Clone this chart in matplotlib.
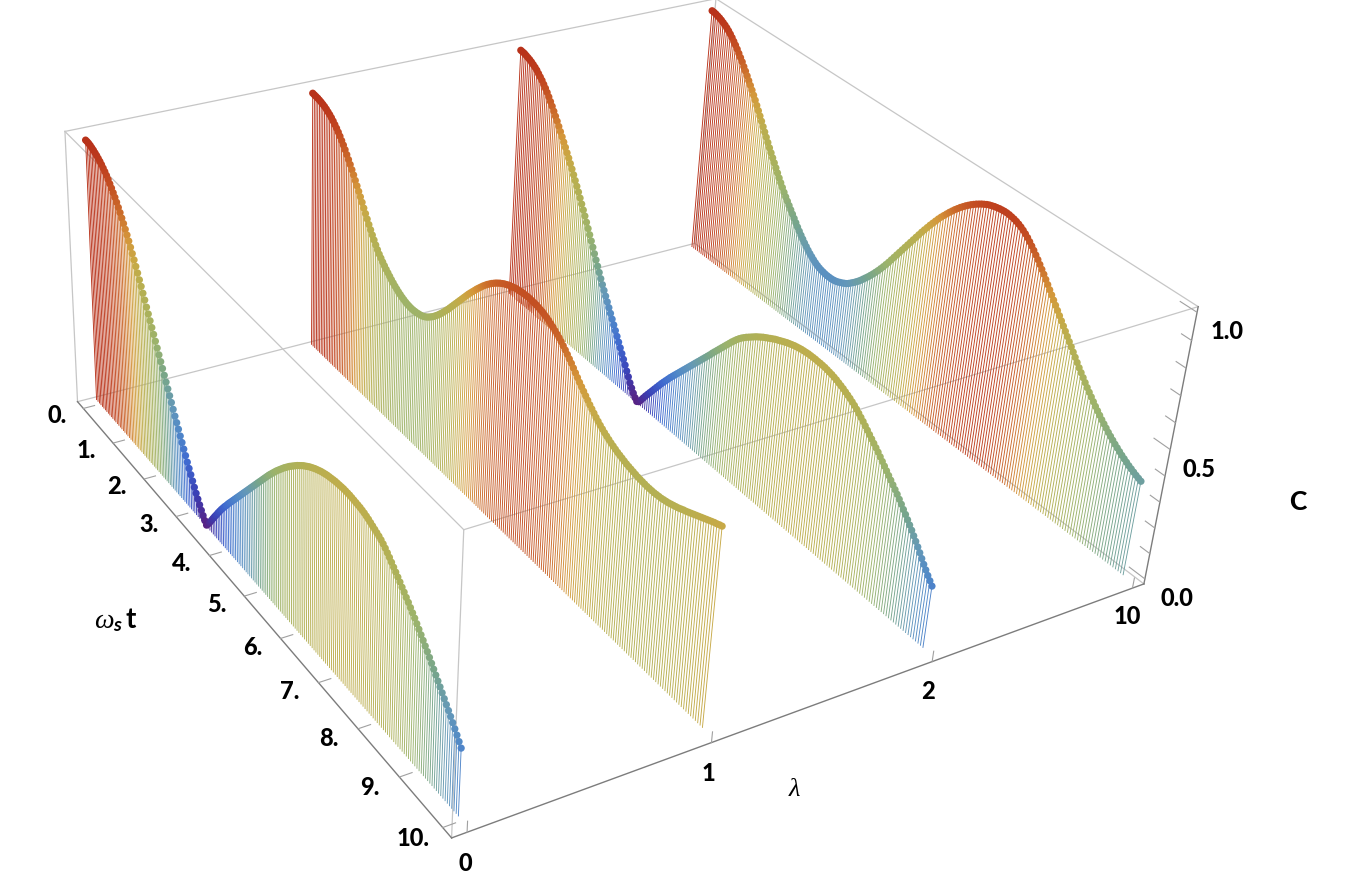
import numpy as np
import matplotlib
matplotlib.use("Agg")
import matplotlib.pyplot as plt
from matplotlib.colors import LinearSegmentedColormap
from mpl_toolkits.mplot3d import proj3d
from mpl_toolkits.mplot3d.art3d import Line3DCollection

# C(t), one list per lambda, t = 0 ... 10 in steps of 0.05
c_lam0 = [1.000,1.000,.999,.997,.994,.991,.987,.983,.978,.973,.967,.960,.953,.945,.936,.926,.916,.905,.894,.882,
 .869,.856,.842,.828,.813,.798,.782,.765,.748,.731,.713,.695,.676,.658,.639,.620,.600,.581,.562,.543,
 .524,.505,.486,.467,.448,.429,.410,.391,.372,.353,.334,.315,.296,.278,.260,.241,.223,.205,.187,.169,
 .152,.135,.118,.101,.085,.070,.055,.041,.028,.016,.006,.018,.032,.047,.062,.077,.091,.106,.120,.134,
 .147,.160,.172,.185,.197,.209,.221,.233,.245,.257,.269,.281,.293,.305,.317,.329,.341,.353,.365,.377,
 .389,.401,.413,.425,.437,.449,.461,.472,.483,.494,.505,.515,.525,.535,.545,.554,.563,.572,.580,.588,
 .596,.604,.611,.618,.625,.631,.637,.643,.648,.653,.658,.662,.666,.670,.673,.676,.679,.681,.683,.685,
 .687,.688,.689,.690,.691,.691,.691,.691,.690,.689,.688,.687,.686,.684,.682,.679,.676,.672,.668,.664,
 .660,.656,.651,.645,.638,.630,.622,.613,.604,.595,.586,.577,.567,.558,.548,.539,.529,.519,.509,.498,
 .487,.476,.465,.454,.443,.431,.419,.407,.395,.383,.371,.359,.347,.335,.323,.311,.298,.285,.272,.258,.244]
c_lam1 = [1.000,.999,.998,.997,.995,.993,.990,.987,.983,.978,.973,.967,.960,.952,.944,.935,.925,.914,.903,.891,
 .878,.865,.852,.838,.824,.809,.794,.779,.764,.749,.733,.718,.703,.688,.674,.660,.647,.634,.622,.611,
 .602,.593,.585,.577,.570,.563,.556,.550,.544,.539,.534,.530,.526,.523,.520,.518,.517,.516,.516,.517,
 .518,.520,.522,.525,.529,.534,.540,.547,.554,.562,.571,.580,.590,.600,.611,.622,.633,.645,.657,.669,
 .681,.693,.705,.717,.729,.741,.753,.764,.775,.786,.797,.807,.817,.827,.836,.845,.853,.861,.868,.875,
 .881,.887,.892,.897,.901,.905,.908,.911,.914,.916,.917,.919,.920,.920,.921,.921,.920,.919,.918,.916,
 .914,.912,.908,.905,.901,.896,.891,.885,.879,.873,.866,.858,.850,.841,.832,.823,.813,.803,.793,.783,
 .774,.765,.756,.747,.738,.730,.722,.714,.707,.700,.694,.688,.683,.678,.673,.669,.665,.661,.658,.655,
 .652,.649,.647,.645,.643,.641,.639,.638,.637,.636,.635,.635,.635,.635,.636,.637,.638,.640,.642,.644,
 .647,.650,.653,.656,.660,.664,.667,.671,.675,.679,.683,.687,.691,.695,.699,.703,.707,.711,.714,.718,.721]
c_lam2 = [1.000,.999,.998,.995,.992,.989,.985,.980,.975,.969,.961,.953,.945,.935,.925,.914,.902,.889,.876,.862,
 .848,.834,.819,.804,.789,.774,.759,.743,.728,.712,.696,.679,.662,.645,.628,.610,.592,.574,.556,.537,
 .518,.499,.480,.461,.441,.422,.403,.384,.365,.347,.330,.313,.296,.279,.262,.245,.228,.211,.194,.177,
 .160,.143,.126,.109,.091,.074,.056,.041,.027,.015,.006,.012,.026,.041,.056,.070,.084,.098,.112,.126,
 .140,.154,.167,.180,.193,.206,.218,.230,.242,.254,.266,.278,.290,.302,.314,.326,.338,.350,.362,.374,
 .386,.398,.410,.423,.435,.447,.459,.471,.483,.495,.507,.519,.530,.541,.551,.560,.568,.576,.583,.590,
 .597,.604,.610,.616,.622,.627,.632,.637,.642,.647,.651,.655,.659,.663,.667,.670,.673,.676,.678,.680,
 .682,.683,.684,.685,.685,.685,.685,.684,.684,.683,.682,.680,.678,.676,.673,.670,.666,.662,.658,.653,
 .648,.643,.637,.631,.624,.616,.608,.600,.591,.582,.573,.564,.555,.546,.537,.527,.517,.507,.497,.487,
 .477,.467,.457,.447,.436,.425,.413,.402,.390,.378,.366,.353,.340,.327,.313,.299,.285,.272,.259,.247,.235]
c_lam10 = [1.000,.999,.997,.994,.991,.987,.982,.977,.971,.964,.956,.947,.937,.927,.916,.904,.892,.880,.866,.853,
 .839,.825,.811,.797,.782,.767,.751,.735,.719,.703,.686,.670,.654,.638,.622,.607,.592,.577,.562,.547,
 .532,.518,.504,.490,.477,.465,.453,.441,.429,.417,.405,.393,.382,.371,.361,.351,.342,.333,.325,.318,
 .311,.305,.300,.296,.293,.291,.289,.288,.288,.288,.289,.291,.294,.298,.302,.307,.312,.319,.327,.335,
 .344,.353,.363,.374,.385,.396,.408,.420,.433,.446,.460,.474,.489,.504,.520,.536,.552,.568,.584,.600,
 .616,.632,.648,.664,.680,.696,.711,.726,.741,.755,.769,.783,.796,.808,.820,.832,.843,.854,.864,.874,
 .883,.892,.900,.908,.915,.922,.928,.934,.939,.944,.948,.951,.954,.956,.958,.959,.960,.960,.959,.957,
 .955,.952,.948,.943,.937,.930,.922,.913,.903,.893,.882,.871,.859,.847,.835,.822,.809,.796,.783,.770,
 .757,.744,.731,.718,.705,.692,.679,.666,.653,.640,.627,.614,.601,.589,.577,.565,.553,.542,.531,.520,
 .509,.499,.489,.479,.470,.461,.452,.444,.436,.428,.421,.414,.407,.401,.395,.389,.384,.379,.374,.370,.366]
curves = [c_lam0, c_lam1, c_lam2, c_lam10]

lam_labels = ["0", "1", "2", "10"]
t_ticks = [0, 1, 2, 3, 4, 5, 6, 7, 8, 9, 10]
t_labels = ["0.", "1.", "2.", "3.", "4.", "5.", "6.", "7.", "8.", "9.", "10."]
c_ticks = [0.0, 0.1, 0.2, 0.3, 0.4, 0.5, 0.6, 0.7, 0.8, 0.9, 1.0]

W, H = 1363, 880
tm, tp, lm, lp, zm, zp = -0.2, 10.2, -0.06, 3.06, -0.02, 1.02

plt.rcParams["font.family"] = ["Lato", "DejaVu Sans"]
plt.rcParams["mathtext.fontset"] = "custom"
plt.rcParams["mathtext.it"] = "Liberation Serif:italic"
plt.rcParams["mathtext.rm"] = "Liberation Serif"
plt.rcParams["mathtext.bf"] = "Lato:bold"
plt.rcParams["mathtext.bfit"] = "Lato:italic:bold"

rainbow = LinearSegmentedColormap.from_list("rb", [
    (0.00, "#5a2080"), (0.08, "#3a3fb5"), (0.17, "#3f6ad0"), (0.25, "#5088c8"),
    (0.32, "#6498b8"), (0.40, "#76a58c"), (0.50, "#9bb36c"), (0.60, "#aeb158"),
    (0.68, "#bbae4e"), (0.73, "#c9a845"), (0.79, "#d4963a"), (0.86, "#cb6a2a"),
    (0.95, "#c0431f"), (1.00, "#b8321a")])

fig = plt.figure(figsize=(W/100, H/100), dpi=100)
ax = fig.add_subplot(projection="3d", computed_zorder=False)
ax.set_axis_off()
ax.set_xlim(tm, tp)
ax.set_ylim(lm, lp)
ax.set_zlim(zm, zp)
ax.view_init(30.545, -34.609, -3.908)
ax.set_proj_type("persp", focal_length=0.4423)
ax.set_box_aspect((1.0011, 0.9994, 0.4))
S = 1135.88
ax.set_position([(587.69-S/2)/W, (507.55-S/2)/H, S/W, S/H])
ax.patch.set_alpha(0)
ax.apply_aspect()
M = ax.get_proj()

def label(x, y, z, s):
    # label next to a 3d point, drawn on the figure so it is not clipped
    px, py, _ = proj3d.proj_transform(x, y, z, M)
    fx, fy = fig.transFigure.inverted().transform(ax.transData.transform((px, py)))
    fig.text(fx, fy, s, ha="center", va="center", fontsize=17, fontweight=900, color="black")

# box
light = "#c6c6c6"
dark = "#7c7c7c"
edges = [((tm,lm,zp),(tp,lm,zp)), ((tp,lm,zp),(tp,lp,zp)), ((tp,lp,zp),(tm,lp,zp)), ((tm,lp,zp),(tm,lm,zp)),
         ((tp,lp,zm),(tm,lp,zm)), ((tm,lp,zm),(tm,lm,zm)),
         ((tm,lm,zm),(tm,lm,zp)), ((tp,lm,zm),(tp,lm,zp)), ((tm,lp,zm),(tm,lp,zp))]
for a, b in edges:
    ax.plot(*zip(a, b), color=light, lw=0.9, zorder=1, clip_on=False)
for a, b in [((tm,lm,zm),(tp,lm,zm)), ((tp,lm,zm),(tp,lp,zm)), ((tp,lp,zm),(tp,lp,zp))]:
    ax.plot(*zip(a, b), color=dark, lw=1.0, zorder=1, clip_on=False)

# ticks
for tt, s in zip(t_ticks, t_labels):
    ax.plot([tt, tt], [lm, lm+0.05], [zm, zm], color="#a0a0a0", lw=0.8, zorder=1, clip_on=False)
    label(tt, lm-0.115, zm, s)
for i, s in enumerate(lam_labels):
    ax.plot([tp, tp], [i, i], [zm, zm+0.04], color="#a0a0a0", lw=0.8, zorder=1, clip_on=False)
    label(tp, i, zm-0.115, s)
for v in c_ticks:
    n = 0.3 if round(v*10) % 5 == 0 else 0.18
    ax.plot([tp, tp-n], [lp, lp], [v, v], color="#a0a0a0", lw=0.8, zorder=1, clip_on=False)
for v, s, dt, dl, dz in [(0.0, "0.0", 0.45, 0.05, -0.02), (0.5, "0.5", 0.45, 0.025, -0.015), (1.0, "1.0", 0.45, 0.025, -0.015)]:
    label(tp+dt, lp+dl, v+dz, s)

fig.text(116/W, 1-620/H, r"$\omega_{\mathbfit{s}}\,\mathbf{t}$", ha="center", va="center", fontsize=20)
fig.text(795/W, 1-788/H, r"$\lambda$", ha="center", va="center", fontsize=19)
fig.text(1298/W, 1-502/H, "C", ha="center", va="center", fontsize=19, fontweight=900)

# ribbons, back to front
for i in [3, 2, 1, 0]:
    c = np.array(curves[i])
    t = np.linspace(0, 10, len(c))
    cols = rainbow(c)
    segs = [[(tt, i, 0.0), (tt, i, cc)] for tt, cc in zip(t, c)]
    lc = Line3DCollection(segs, colors=cols, linewidths=0.65, zorder=10-2*i)
    lc.set_clip_on(False)
    ax.add_collection3d(lc, autolim=False)
    ax.scatter(t, np.full_like(t, i), c, c=cols, s=27, linewidths=0, depthshade=False,
               zorder=11-2*i, clip_on=False)

ax.set_xlim(tm, tp)
ax.set_ylim(lm, lp)
ax.set_zlim(zm, zp)
fig.savefig("out.png", dpi=100)
